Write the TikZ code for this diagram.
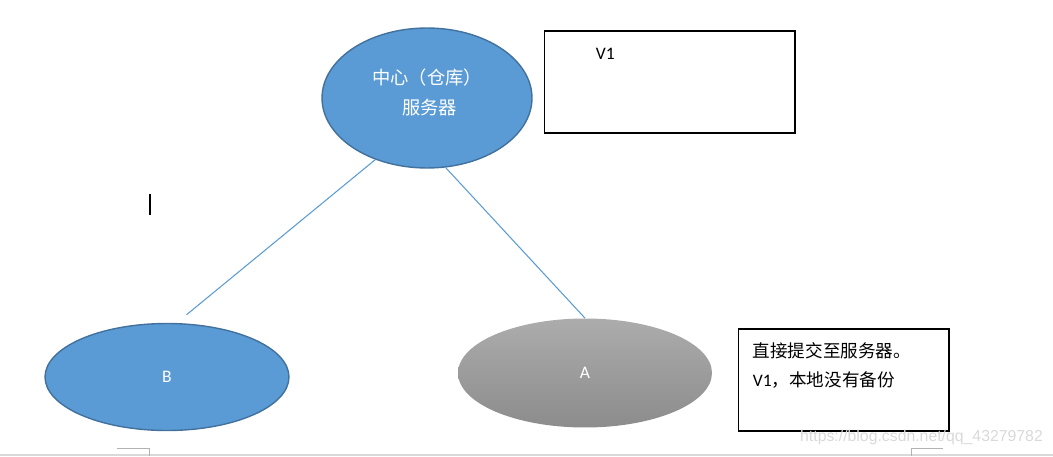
\documentclass[tikz,border=0pt]{standalone}
\usepackage{fontspec}
\setmainfont{Carlito}
\newfontfamily\cjk{Noto Sans CJK SC}
\newfontfamily\wmfont{Liberation Sans}
\usepackage{tikz}
\usetikzlibrary{positioning, shapes.geometric}

\definecolor{diskblue}{RGB}{91,155,213}
\definecolor{diskedge}{RGB}{65,113,156}
\definecolor{linkblue}{RGB}{91,155,213}
\definecolor{greytop}{RGB}{172,172,172}
\definecolor{greybot}{RGB}{140,140,140}

\begin{document}
\begin{tikzpicture}[x=0.02cm, y=-0.02cm, node distance=1.2cm,
    every node/.style={font=\fontsize{10}{16.5}\selectfont},
    bluedisk/.style={ellipse, draw=diskedge, line width=0.8pt, fill=diskblue, text=white},
    notebox/.style={draw, line width=0.6pt, minimum height=2.04cm},
    link/.style={draw=linkblue, line width=0.6pt}]
    \useasboundingbox (0,0) rectangle (1053,456);

    % server and the two clients
    \node[bluedisk, minimum width=4.2cm, minimum height=2.8cm, align=center, text depth=0.25cm, font=\fontsize{10.4}{17}\selectfont\cjk] (server) at (427,98) {中心（仓库）\\\hspace{0.1cm}服务器};
    \node[bluedisk, minimum width=4.88cm, minimum height=2.14cm] (bnode) at (167,377) {B};
    \node[ellipse, top color=greytop, bottom color=greybot, text=white, minimum width=5.08cm, minimum height=2.18cm] (anode) at (585,373) {A};

    % notes
    \node[notebox, minimum width=5.02cm] (v1box) at (669.5,82) {};
    \node[inner sep=0pt, below right=0.34cm and 1.04cm of v1box.north west] (v1) {V1};
    \node[notebox, minimum width=4.22cm] (localbox) at (843.5,380) {};
    \node[inner sep=0pt, align=left, below right=0.27cm and 0.3cm of localbox.north west] (localnote) {{\cjk 直接提交至服务器。}\\V1{\cjk ，本地没有备份}};

    \draw[link, shorten >=0.26cm] (server.230) -- (bnode.80);
    \draw[link] (server.285) -- (anode.north);

    % cursor, page marks, watermark
    \draw[line width=1.3pt] (150,194) -- (150,215);
    \draw[gray!30, line width=0.6pt] (0,455) -- (1053,455);
    \draw[gray!60, line width=0.5pt] (117,448) -- (149,448) -- (149,456);
    \draw[gray!60, line width=0.5pt] (911,456) -- (911,448) -- (943,448);
    \node[font=\wmfont\fontsize{9}{9}\selectfont, text=gray!30, inner sep=0pt] (mark) at (921.5,437) {https://blog.csdn.net/qq\_43279782};
\end{tikzpicture}
\end{document}
